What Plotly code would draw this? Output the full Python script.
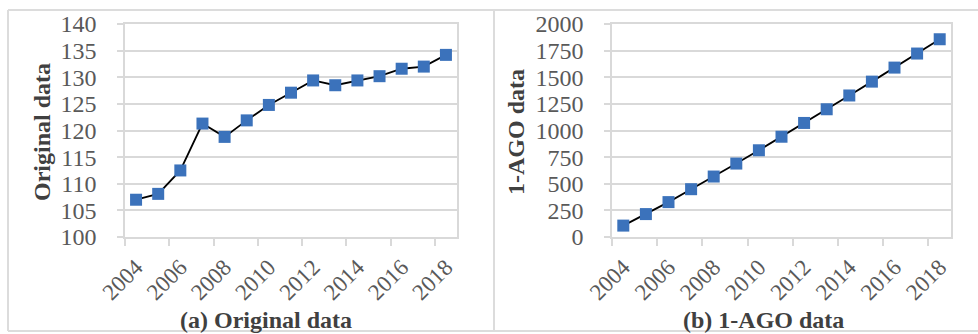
import plotly.graph_objects as go

# Yearly series (2004-2018)
years = [2004, 2005, 2006, 2007, 2008, 2009, 2010, 2011, 2012,
         2013, 2014, 2015, 2016, 2017, 2018]
original = [107.0, 108.1, 112.5, 121.3, 118.8, 121.9, 124.8, 127.1, 129.4,
            128.5, 129.4, 130.2, 131.6, 132.0, 134.2]
ago = [107.0, 215.1, 327.6, 448.9, 567.7, 689.6, 814.4, 941.5, 1070.9,
       1199.4, 1328.8, 1459.0, 1590.6, 1722.6, 1856.8]

year_ticks = [2004, 2006, 2008, 2010, 2012, 2014, 2016, 2018]
year_labels = [str(y) for y in year_ticks]
boundary_ticks = [2003.5, 2005.5, 2007.5, 2009.5, 2011.5, 2013.5, 2015.5, 2017.5]

W, H = 978, 334
FONT = "Liberation Serif"
GRID = "#d9d9d9"
BLUE = "#3b72bb"


def px_x(v):
    return v / W


def px_y(v):
    return 1 - v / H


fig = go.Figure()

for xa, ya, vals in [("x", "y", original), ("x2", "y2", ago)]:
    fig.add_trace(go.Scatter(
        x=years, y=vals, xaxis=xa, yaxis=ya, mode="lines+markers",
        line=dict(color="black", width=1.8),
        marker=dict(symbol="square", size=12, color=BLUE,
                    line=dict(width=0)),
        showlegend=False, cliponaxis=False,
    ))

xcommon = dict(
    range=[2003.5, 2018.5], tickmode="array", tickvals=year_ticks,
    ticktext=year_labels, tickangle=-45, ticks="",
    ticklabelstandoff=6, automargin=False,
    tickfont=dict(family=FONT, size=23, color="#595959"),
    showgrid=False, zeroline=False, showline=True, linecolor=GRID,
    linewidth=1.5, mirror=True,
    minor=dict(tickmode="array", tickvals=boundary_ticks, ticks="outside",
               ticklen=7, tickcolor=GRID, tickwidth=1.5, showgrid=False),
)
ycommon = dict(
    ticks="outside", ticklen=6, tickcolor=GRID, tickwidth=1.5,
    ticklabelstandoff=16, automargin=False,
    tickfont=dict(family=FONT, size=24, color="#595959"),
    showgrid=True, gridcolor=GRID, gridwidth=1.5, zeroline=False,
    showline=True, linecolor=GRID, linewidth=1.5, mirror=True,
)

y_bottom, y_top = px_y(237), px_y(24)

fig.update_layout(
    width=W, height=H, margin=dict(l=0, r=0, t=0, b=0, autoexpand=False),
    paper_bgcolor="white", plot_bgcolor="white",
    xaxis=dict(domain=[px_x(125), px_x(457)], anchor="y", **xcommon),
    yaxis=dict(domain=[y_bottom, y_top], anchor="x", range=[100, 140],
               dtick=5, **ycommon),
    xaxis2=dict(domain=[px_x(612), px_x(951)], anchor="y2", **xcommon),
    yaxis2=dict(domain=[y_bottom, y_top], anchor="x2", range=[0, 2000],
                dtick=250, **ycommon),
)

title_font = dict(family=FONT, size=24, color="#404040")
annotations = [
    dict(text="<b>Original data</b>", x=px_x(42), y=px_y(132),
         textangle=-90),
    dict(text="<b>1-AGO data</b>", x=px_x(516), y=px_y(132),
         textangle=-90),
    dict(text="<b>(a) Original data</b>", x=px_x(266), y=px_y(320)),
    dict(text="<b>(b) 1-AGO data</b>", x=px_x(763), y=px_y(320)),
]
for a in annotations:
    fig.add_annotation(xref="paper", yref="paper", showarrow=False,
                       xanchor="center", yanchor="middle", font=title_font,
                       **a)

# Panel frames
frame = dict(type="line", xref="paper", yref="paper",
             line=dict(color="#dcdcdc", width=2))
fig.add_shape(x0=px_x(8), x1=1, y0=px_y(10), y1=px_y(10), **frame)
fig.add_shape(x0=px_x(8), x1=px_x(8), y0=px_y(10), y1=px_y(331), **frame)
fig.add_shape(x0=px_x(494), x1=px_x(494), y0=px_y(10), y1=px_y(331), **frame)
fig.add_shape(x0=px_x(8), x1=1, y0=px_y(331), y1=px_y(331), **frame)

fig.write_html("out.html")
